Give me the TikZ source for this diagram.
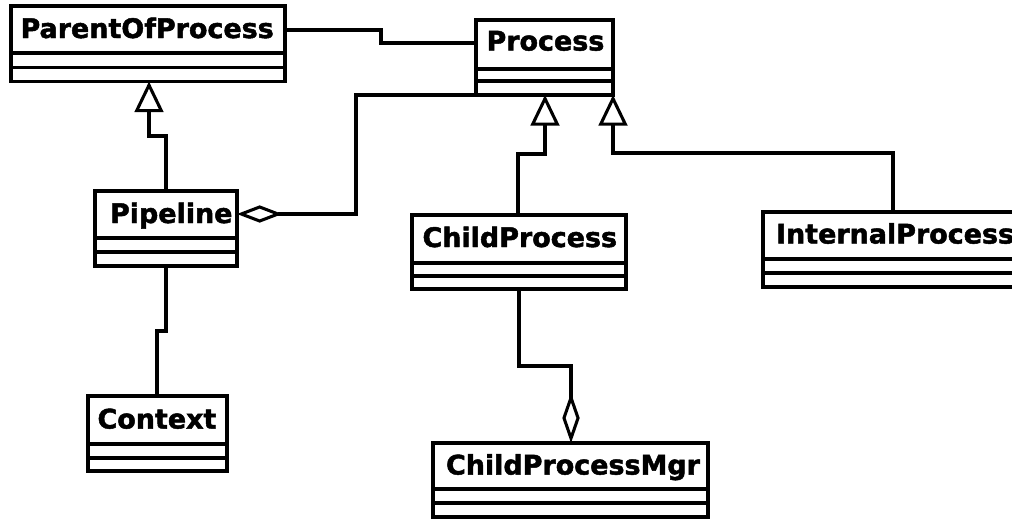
\documentclass[tikz,border=0pt]{standalone}
\usepackage{fontspec}
\setmainfont{DejaVu Sans}
\newfontfamily\clsfont{DejaVu Sans Bold}[FakeBold=1.8]
\usetikzlibrary{arrows.meta,fit}
\begin{document}
\begin{tikzpicture}[x=0.75pt,y=-0.75pt,
  line width=2.3pt,
  classbox/.style={draw, inner sep=0pt, outer sep=0pt},
  title/.style={anchor=base west, inner sep=0pt, font=\clsfont\fontsize{20.2pt}{22pt}\selectfont},
  gen/.style={-{Triangle[open,length=23pt,width=21.5pt]}},
  agg/.style={-{Diamond[open,length=#1,width=13pt]}},
  agg/.default=34pt]
\useasboundingbox (0,0) rectangle (1012,518);
\clip (0,0) rectangle (1012,518);

% classes: outer box, name, two empty compartments
\node[classbox, fit={(11,6) (285,81.5)}] (poc) {};
\node[title] (poct) at (19,38) {ParentOfProcess};
\draw (poc.west |- 0,53) -- (poc.east |- 0,53) (poc.west |- 0,67.5) -- (poc.east |- 0,67.5);

\node[classbox, fit={(476,20) (613,95)}] (proc) {};
\node[title] (proct) at (485,50.5) {Process};
\draw (proc.west |- 0,69) -- (proc.east |- 0,69) (proc.west |- 0,81) -- (proc.east |- 0,81);

\node[classbox, fit={(95,191) (237,266)}] (pipe) {};
\node[title] (pipet) at (108.5,223) {Pipeline};
\draw (pipe.west |- 0,238) -- (pipe.east |- 0,238) (pipe.west |- 0,252) -- (pipe.east |- 0,252);

\node[classbox, fit={(88,396) (227,471)}] (ctx) {};
\node[title] (ctxt) at (96,428.5) {Context};
\draw (ctx.west |- 0,444) -- (ctx.east |- 0,444) (ctx.west |- 0,458) -- (ctx.east |- 0,458);

\node[classbox, fit={(412,215) (626,289)}] (child) {};
\node[title] (childt) at (421,247) {ChildProcess};
\draw (child.west |- 0,263) -- (child.east |- 0,263) (child.west |- 0,276) -- (child.east |- 0,276);

\node[classbox, fit={(763,212) (1030,287)}] (intp) {};
\node[title] (intpt) at (774.5,243.5) {InternalProcess};
\draw (intp.west |- 0,259) -- (intp.east |- 0,259) (intp.west |- 0,273) -- (intp.east |- 0,273);

\node[classbox, fit={(433,443) (708,517)}] (mgr) {};
\node[title] (mgrt) at (444.5,474.5) {ChildProcessMgr};
\draw (mgr.west |- 0,489) -- (mgr.east |- 0,489) (mgr.west |- 0,503) -- (mgr.east |- 0,503);

% associations
\draw (poc.east |- 0,30) -| (381,43) -- (proc.west |- 0,43);
\draw (pipe.south -| 166,0) -- (166,331) -- (157,331) -- (ctx.north -| 157,0);

% generalizations
\draw[gen] (pipe.north -| 166,0) -- (166,136) -- (149,136) -- (poc.south -| 149,0);
\draw[gen] (child.north -| 518,0) -- (518,154) -- (545,154) -- (proc.south -| 545,0);
\draw[gen] (intp.north -| 893,0) -- (893,153) -- (613,153) -- (proc.south east);

% aggregations
\draw[agg] (proc.south west) -- (356,95) -- (356,214) -- (pipe.east |- 0,214);
\draw[agg=37.5pt] (child.south -| 519,0) -- (519,366) -- (571,366) -- (mgr.north -| 571,0);
\end{tikzpicture}
\end{document}
